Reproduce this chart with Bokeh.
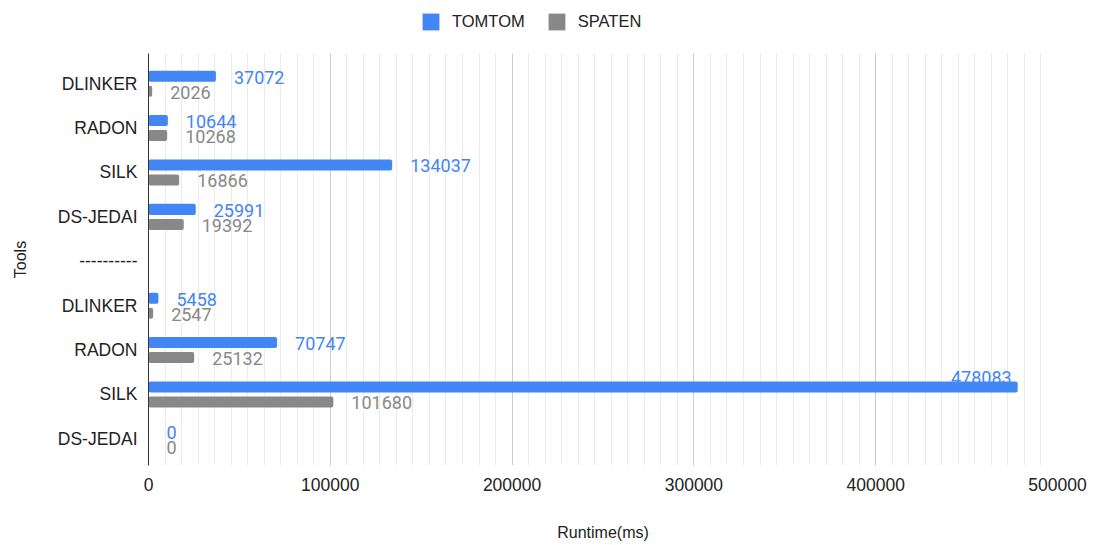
from bokeh.plotting import figure
from bokeh.layouts import column
from bokeh.models import (ColumnDataSource, Range1d, FixedTicker, Legend, LegendItem,
                          NumeralTickFormatter)
from bokeh.transform import dodge
from bokeh.core.properties import value
from bokeh.embed import file_html
from bokeh.resources import INLINE

# ---- data ----
tools = ["DLINKER", "RADON", "SILK", "DS-JEDAI", "----------",
         "DLINKER", "RADON", "SILK", "DS-JEDAI"]
tomtom = [37072, 10644, 134037, 25991, None, 5458, 70747, 478083, 0]
spaten = [2026, 10268, 16866, 19392, None, 2547, 25132, 101680, 0]
series = ["TOMTOM", "SPATEN"]
x_ticks = [0, 100000, 200000, 300000, 400000, 500000]
x_max = 500000

BLUE = "#4285F4"
GRAY = "#888888"
LABEL_FONT = "Liberation Sans"
DATA_FONT = "Roboto"
W = 1096

idx = list(range(len(tools)))


def nz(v):
    return float("nan") if v is None else v


def lab(v):
    return "" if v is None else str(v)


inside_limit = 0.9 * x_max
src = ColumnDataSource(dict(
    y=idx,
    tomtom=[nz(v) for v in tomtom],
    spaten=[nz(v) for v in spaten],
    tomtom_lab=[lab(v) if (v is None or v < inside_limit) else "" for v in tomtom],
    tomtom_in=[lab(v) if (v is not None and v >= inside_limit) else "" for v in tomtom],
    spaten_lab=[lab(v) for v in spaten],
))

# ---- legend strip ----
lg = figure(width=W, height=53, output_backend="svg", toolbar_location=None,
            x_range=Range1d(0, 1), y_range=Range1d(0, 1),
            min_border=0, min_border_left=0, min_border_right=0,
            min_border_top=0, min_border_bottom=0)
lg.axis.visible = False
lg.grid.visible = False
lg.outline_line_color = None
dummy = ColumnDataSource(dict(y=[float("nan")], r=[float("nan")]))
d_t = lg.hbar(y="y", right="r", height=1, source=dummy, fill_color=BLUE, line_color=None)
d_s = lg.hbar(y="y", right="r", height=1, source=dummy, fill_color=GRAY, line_color=None)
legend = Legend(items=[LegendItem(label=series[0], renderers=[d_t]),
                       LegendItem(label=series[1], renderers=[d_s])],
                orientation="horizontal", location=(272, 21),
                glyph_width=21, glyph_height=21, label_height=21, label_width=10,
                label_standoff=11, spacing=21,
                padding=0, margin=0, border_line_color=None,
                background_fill_alpha=0,
                label_text_font=LABEL_FONT, label_text_font_size="16.5px",
                label_text_color="#222222")
lg.add_layout(legend, "center")

# ---- main chart ----
p = figure(width=W, height=492, output_backend="svg", toolbar_location=None,
           x_range=Range1d(0, x_max), y_range=Range1d(8.6, -0.68),
           min_border_left=148, min_border_right=39, min_border_top=0,
           min_border_bottom=80)
p.outline_line_color = None
p.background_fill_color = "white"

off = 0.169
bh = 0.248
r_t = p.hbar(y=dodge("y", -off, range=p.y_range), right="tomtom", left=0, height=bh,
             source=src, fill_color=BLUE, line_color=None, border_radius=2)
r_s = p.hbar(y=dodge("y", off, range=p.y_range), right="spaten", left=0, height=bh,
             source=src, fill_color=GRAY, line_color=None, border_radius=2)

p.text(x="tomtom", y=dodge("y", -off, range=p.y_range), text="tomtom_lab", source=src,
       x_offset=18, y_offset=1, text_baseline="middle", text_align="left",
       text_color=BLUE, text_font=value(DATA_FONT), text_font_size="18px")
p.text(x="tomtom", y=dodge("y", -off, range=p.y_range), text="tomtom_in", source=src,
       x_offset=-6, y_offset=-9, text_baseline="middle", text_align="right",
       text_color=BLUE, text_font=value(DATA_FONT), text_font_size="18px")
p.text(x="spaten", y=dodge("y", off, range=p.y_range), text="spaten_lab", source=src,
       x_offset=18, y_offset=1, text_baseline="middle", text_align="left",
       text_color=GRAY, text_font=value(DATA_FONT), text_font_size="18px")

# x axis
minor = [k * 100000 / 11 for k in range(0, 56)]
p.xaxis.ticker = FixedTicker(ticks=x_ticks, minor_ticks=minor)
p.xaxis.formatter = NumeralTickFormatter(format="0")
p.xaxis.axis_line_color = None
p.xaxis.major_tick_line_color = None
p.xaxis.minor_tick_line_color = None
p.xaxis.major_label_standoff = 6
p.xaxis.major_label_text_font = LABEL_FONT
p.xaxis.major_label_text_font_size = "17.5px"
p.xaxis.major_label_text_color = "#222222"
p.xaxis.axis_label = "Runtime(ms)"
p.xaxis.axis_label_text_font = LABEL_FONT
p.xaxis.axis_label_text_font_style = "normal"
p.xaxis.axis_label_text_font_size = "16px"
p.xaxis.axis_label_text_color = "#222222"
p.xaxis.axis_label_standoff = 30

p.xgrid.grid_line_color = "#cccccc"
p.xgrid.minor_grid_line_color = "#ebebeb"
p.ygrid.grid_line_color = None

# y axis
p.yaxis.ticker = FixedTicker(ticks=idx)
p.yaxis.major_label_overrides = {i: t for i, t in enumerate(tools)}
p.yaxis.axis_line_color = "#333333"
p.yaxis.major_tick_line_color = None
p.yaxis.minor_tick_line_color = None
p.yaxis.major_label_standoff = 5
p.yaxis.major_label_text_font = LABEL_FONT
p.yaxis.major_label_text_font_size = "17.5px"
p.yaxis.major_label_text_color = "#222222"
p.yaxis.axis_label = "Tools"
p.yaxis.axis_label_text_font = LABEL_FONT
p.yaxis.axis_label_text_font_style = "normal"
p.yaxis.axis_label_text_font_size = "16px"
p.yaxis.axis_label_text_color = "#222222"
p.yaxis.axis_label_standoff = 26

layout = column(lg, p, spacing=0)
open("out.html", "w").write(file_html(layout, INLINE))
